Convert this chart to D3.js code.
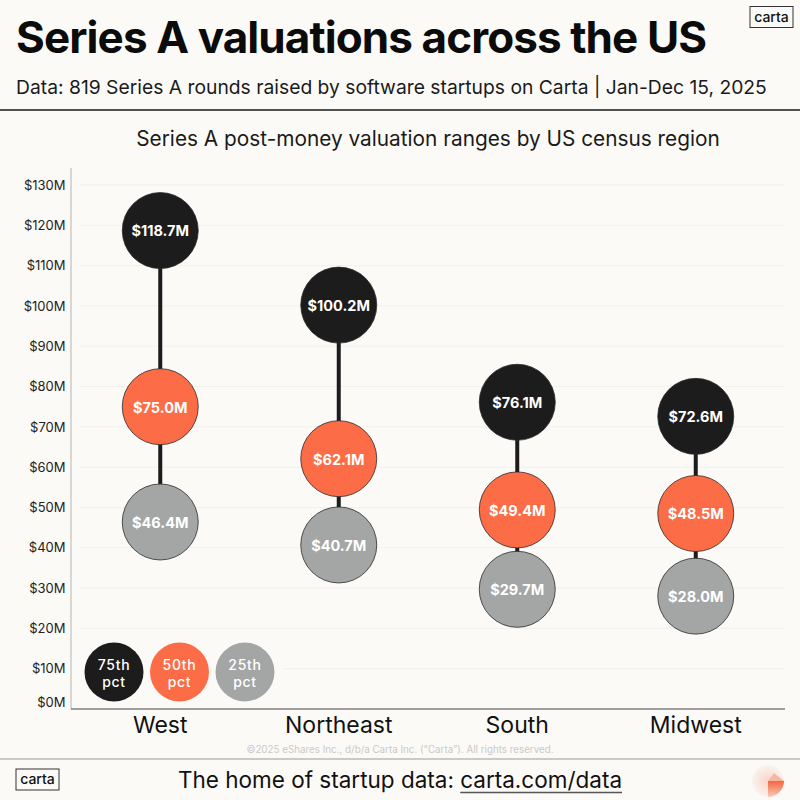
<!DOCTYPE html>
<html>
<head>
<meta charset="utf-8">
<script src="https://cdnjs.cloudflare.com/ajax/libs/d3/7.8.5/d3.min.js"></script>
<style>
    html, body { margin: 0; padding: 0; background: #fcfaf7; }
    svg { display: block; }
    text { font-family: Inter, "Open Sans", sans-serif; }
</style>
</head>
<body>
<div id="chart"></div>
<script>
// Values
const regions = ["West", "Northeast", "South", "Midwest"];
const p75 = [118.7, 100.2, 76.1, 72.6];
const p50 = [75.0, 62.1, 49.4, 48.5];
const p25 = [46.4, 40.7, 29.7, 28.0];
const yTicks = [0, 10, 20, 30, 40, 50, 60, 70, 80, 90, 100, 110, 120, 130];
const legendLabels = ["75th", "50th", "25th"];
const percentileColors = ["#1c1c1c", "#fc6c47", "#a4a6a6"];

let svg = d3.select("#chart").append("svg")
    .attr("width", 800)
    .attr("height", 800);

svg.append("rect").attr("width", 800).attr("height", 800).attr("fill", "#fcfaf7");

let x = d3.scaleBand().domain(regions).range([71, 785]);
let y = d3.scaleLinear().domain([0, 130]).range([709, 185]);

// Header
svg.append("text").attr("x", 16).attr("y", 53)
    .attr("font-size", 44).attr("font-weight", 700).attr("letter-spacing", -0.9).attr("fill", "#0b0b0b")
    .text("Series A valuations across the US");
svg.append("text").attr("x", 16).attr("y", 94)
    .attr("font-size", 19.3).attr("fill", "#1a1a1a")
    .text("Data: 819 Series A rounds raised by software startups on Carta | Jan-Dec 15, 2025");
svg.append("line").attr("x1", 0).attr("x2", 800).attr("y1", 110).attr("y2", 110)
    .attr("stroke", "#1a1a1a").attr("stroke-width", 1.5);
svg.append("text").attr("x", 428).attr("y", 146).attr("text-anchor", "middle")
    .attr("font-size", 20.8).attr("fill", "#1a1a1a")
    .text("Series A post-money valuation ranges by US census region");

// Logo boxes
function logoBox(bx, by, w, h, size) {
    svg.append("rect").attr("x", bx).attr("y", by).attr("width", w).attr("height", h)
        .attr("fill", "none").attr("stroke", "#333").attr("stroke-width", 1);
    svg.append("text").attr("x", bx + w / 2).attr("y", by + h / 2 + size * 0.34)
        .attr("text-anchor", "middle").attr("font-size", size).attr("font-weight", 500).attr("fill", "#111")
        .text("carta");
}
logoBox(750, 6.5, 43, 21, 14);
logoBox(16, 769, 43, 21, 14);

// Grid lines
svg.append("g").selectAll("line")
    .data(yTicks.filter(d => d > 0))
    .enter().append("line")
    .attr("x1", d => d === 10 ? 283 : 79)
    .attr("x2", 785)
    .attr("y1", d => y(d))
    .attr("y2", d => y(d))
    .attr("stroke", "#f2f0eb")
    .attr("stroke-width", 1);

// Axes
let yAxis = svg.append("g")
    .attr("transform", "translate(71,0)")
    .call(d3.axisLeft(y).tickValues(yTicks).tickSize(0).tickPadding(5.5).tickFormat(d => "$" + d + "M"));
yAxis.select(".domain").attr("stroke", "#b5b3af").attr("d", "M0,168V709");
yAxis.selectAll("text").attr("font-size", 13).attr("fill", "#222")
    .attr("font-family", "Inter, sans-serif")
    .attr("dy", d => d === 0 ? "-0.2em" : "0.32em");

let xAxis = svg.append("g")
    .attr("transform", "translate(0,709)")
    .call(d3.axisBottom(x).tickSize(0).tickPadding(8));
xAxis.select(".domain").attr("stroke", "#444").attr("d", "M71,0H785");
xAxis.selectAll("text").attr("font-size", 23).attr("fill", "#111")
    .attr("font-family", "Inter, sans-serif");

// Range stems
svg.append("g").selectAll("line")
    .data(regions)
    .enter().append("line")
    .attr("x1", d => x(d) + x.bandwidth() / 2)
    .attr("x2", d => x(d) + x.bandwidth() / 2)
    .attr("y1", (d, i) => y(p75[i]))
    .attr("y2", (d, i) => y(p25[i]))
    .attr("stroke", "#1c1c1c")
    .attr("stroke-width", 4);

// One group of dots per percentile, top value drawn first
[p75, p50, p25].forEach(function(values, k) {
    let dots = svg.append("g").selectAll("g")
        .data(regions)
        .enter().append("g")
        .attr("transform", (d, i) => "translate(" + (x(d) + x.bandwidth() / 2) + "," + y(values[i]) + ")");
    dots.append("circle")
        .attr("r", 38)
        .attr("fill", percentileColors[k])
        .attr("stroke", "#2a2a2a")
        .attr("stroke-width", 0.8);
    dots.append("text")
        .attr("text-anchor", "middle")
        .attr("dy", "0.4em")
        .attr("font-size", 14.5)
        .attr("font-weight", 700)
        .attr("fill", "#fff")
        .text((d, i) => "$" + values[i].toFixed(1) + "M");
});

// Legend
let legend = svg.append("g").selectAll("g")
    .data(legendLabels)
    .enter().append("g")
    .attr("transform", (d, i) => "translate(" + (114 + i * 65.5) + ",672)");
legend.append("circle").attr("r", 29.5).attr("fill", (d, i) => percentileColors[i]);
legend.append("text").attr("text-anchor", "middle").attr("y", -2)
    .attr("font-size", 14).attr("letter-spacing", 0.7).attr("font-weight", 500).attr("fill", "#fff").text(d => d);
legend.append("text").attr("text-anchor", "middle").attr("y", 15)
    .attr("font-size", 14).attr("letter-spacing", 0.7).attr("font-weight", 500).attr("fill", "#fff").text("pct");

// Footer
svg.append("text").attr("x", 400).attr("y", 753).attr("text-anchor", "middle")
    .attr("font-size", 9.8).attr("fill", "#cbc9c5")
    .text("©2025 eShares Inc., d/b/a Carta Inc. (“Carta”). All rights reserved.");
svg.append("line").attr("x1", 0).attr("x2", 800).attr("y1", 759).attr("y2", 759)
    .attr("stroke", "#9a9a98").attr("stroke-width", 1);
let footer = svg.append("text").attr("x", 400).attr("y", 788).attr("text-anchor", "middle")
    .attr("font-size", 22.5).attr("fill", "#111");
footer.append("tspan").text("The home of startup data: ");
footer.append("tspan").text("carta.com/data");

// Underline sits lower and greyer than the browser's own
let linkStart = footer.node().getStartPositionOfChar(26).x;
let linkEnd = footer.node().getEndPositionOfChar(39).x;
svg.append("line").attr("x1", linkStart).attr("x2", linkEnd).attr("y1", 792.5).attr("y2", 792.5)
    .attr("stroke", "#555").attr("stroke-width", 1.5);

// Footer mark
let defs = svg.append("defs");
let grad = defs.append("radialGradient").attr("id", "mark");
grad.append("stop").attr("offset", "0%").attr("stop-color", "#f9d5c7");
grad.append("stop").attr("offset", "100%").attr("stop-color", "#faf3ee");
let fade = defs.append("linearGradient").attr("id", "wedge").attr("x1", 0).attr("x2", 0).attr("y1", 0).attr("y2", 1);
fade.append("stop").attr("offset", "0%").attr("stop-color", "#f4663f");
fade.append("stop").attr("offset", "100%").attr("stop-color", "#f9cbb9");
svg.append("circle").attr("cx", 768).attr("cy", 781).attr("r", 16).attr("fill", "url(#mark)");
svg.append("path").attr("transform", "translate(768,781)")
    .attr("d", d3.arc()({ innerRadius: 0, outerRadius: 16, startAngle: Math.PI * 0.5, endAngle: Math.PI }))
    .attr("fill", "url(#wedge)");
svg.append("path").attr("d", "M768,781L774,773L784,781Z").attr("fill", "#f8b7a1");
</script>
</body>
</html>
